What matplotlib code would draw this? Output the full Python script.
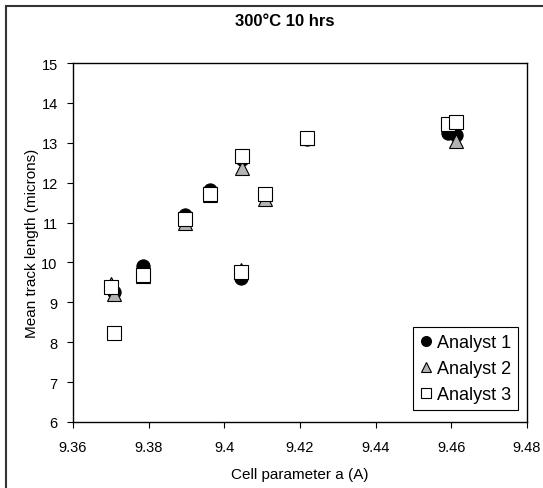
import matplotlib
matplotlib.use("Agg")
import matplotlib.pyplot as plt
from matplotlib.patches import Rectangle

plt.rcParams["font.family"] = ["Liberation Sans", "DejaVu Sans"]

# cell parameter a for each sample
cell_a = [9.3700, 9.3708, 9.3785, 9.3896, 9.3962, 9.4047, 9.4044, 9.4107, 9.4218, 9.4591, 9.4613]

# mean track length per analyst
analyst1 = [9.38, 9.25, 9.92, 11.18, 11.82, 12.60, 9.62, 11.65, 13.10, 13.25, 13.20]
analyst2 = [9.45, 9.20, 9.66, 10.98, 11.70, 12.38, 9.82, 11.58, 13.12, 13.46, 13.05]
analyst3 = [9.38, 8.24, 9.68, 11.08, 11.71, 12.67, 9.77, 11.71, 13.13, 13.48, 13.52]

x_ticks = [9.36, 9.38, 9.4, 9.42, 9.44, 9.46, 9.48]
y_ticks = list(range(6, 16))


def main():
    fig = plt.figure(figsize=(5.43, 4.89), dpi=100)
    ax = fig.add_axes([73 / 543, 1 - 423 / 489, (527 - 73) / 543, (423 - 64) / 489])

    ax.plot(cell_a, analyst1, "o", ms=9.5, mfc="black", mec="black", mew=0.8,
            ls="none", label="Analyst 1")
    ax.plot(cell_a, analyst2, "^", ms=10, mfc="#b3b3b3", mec="black", mew=0.8,
            ls="none", label="Analyst 2")
    ax.plot(cell_a, analyst3, "s", ms=9.5, mfc="white", mec="black", mew=0.8,
            ls="none", label="Analyst 3")

    ax.set_xlim(9.36, 9.48)
    ax.set_ylim(6, 15)
    ax.set_xticks(x_ticks)
    ax.set_xticklabels([f"{v:g}" for v in x_ticks])
    ax.set_yticks(y_ticks)
    ax.tick_params(direction="out", length=4, width=0.8, labelsize=10.5)
    ax.tick_params(axis="x", pad=9)
    ax.tick_params(axis="y", pad=7)
    for sp in ax.spines.values():
        sp.set_linewidth(1.0)

    ax.set_xlabel("Cell parameter a (A)", fontsize=11, labelpad=9)
    ax.set_ylabel("Mean track length (microns)", fontsize=11, labelpad=2)

    leg = ax.legend(loc="lower right", bbox_to_anchor=(0.98, 0.033),
                    fontsize=13, markerscale=0.75, handlelength=0.6,
                    handletextpad=0.3, borderpad=0.4, borderaxespad=0,
                    labelspacing=0.5, fancybox=False,
                    edgecolor="black", framealpha=1)
    leg.get_frame().set_linewidth(0.8)

    fig.text(285 / 543, 1 - 22 / 489, "300°C 10 hrs", ha="center", va="center",
             fontsize=12, fontweight="bold")

    # chart area border (runs off the right and bottom of the image)
    fig.patches.append(Rectangle((6 / 543, -0.05), 1.1, 1 - 7 / 489 + 0.05,
                                 transform=fig.transFigure, fill=False,
                                 edgecolor="#333333", linewidth=1.5))

    fig.savefig("out.png", dpi=100)


if __name__ == "__main__":
    main()
